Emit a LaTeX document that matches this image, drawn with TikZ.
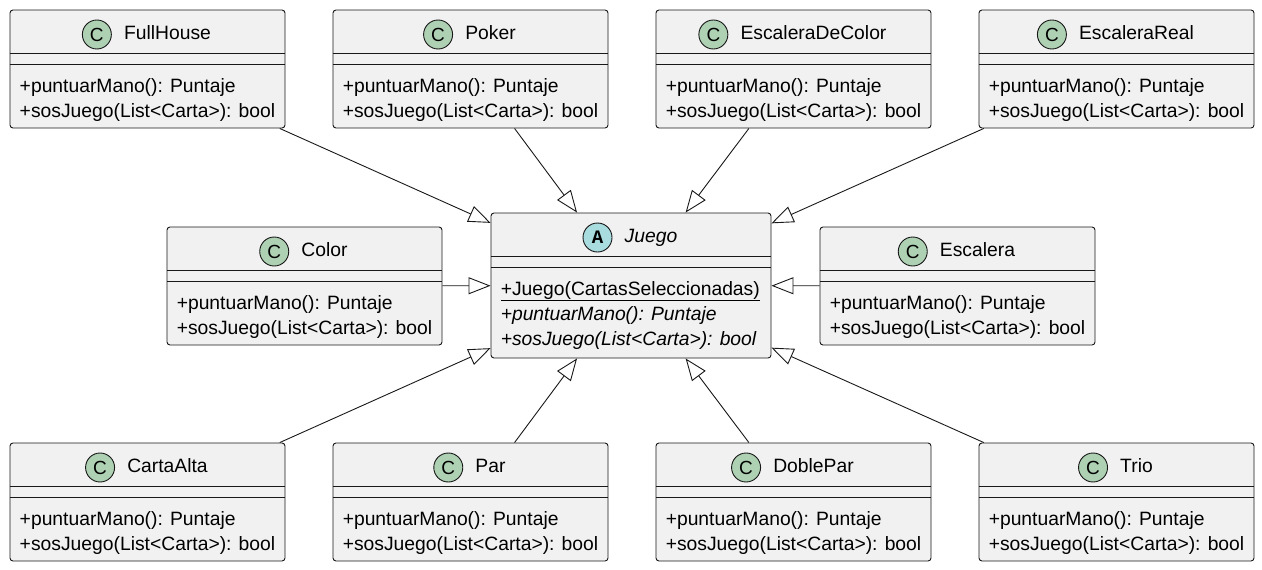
\documentclass[tikz,border=0pt]{standalone}
\usepackage{fontspec}
\setmainfont{Liberation Sans}
\newfontfamily\spotmono{Liberation Mono}
\usetikzlibrary{positioning,arrows.meta}
\definecolor{boxfill}{HTML}{F1F1F1}
\definecolor{boxline}{HTML}{181818}
\definecolor{classspot}{HTML}{ADD1B2}
\definecolor{abstractspot}{HTML}{A9DCDF}
\tikzset{
  classbox/.style={draw=boxline, fill=boxfill, line width=0.9pt, rounded corners=3pt,
    minimum width=275pt, minimum height=118pt, inner sep=0pt},
  spot/.style={circle, draw=boxline, line width=0.9pt, minimum size=29pt, inner sep=0pt,
    font=\fontsize{19}{19}\selectfont},
  title/.style={anchor=base, inner sep=0pt},
  member/.style={anchor=base west, inner sep=0pt},
  divider/.style={draw=boxline, line width=0.9pt},
  arrow/.style={line width=0.9pt, draw=boxline, -{Triangle[open, length=22pt, width=17pt]}},
}

\begin{document}
\begin{tikzpicture}[x=1pt, y=-1pt, font=\fontsize{19.3}{25}\selectfont]
\useasboundingbox (0,0) rectangle (1262,570);

% abstract class
\node[classbox, minimum width=280pt, minimum height=145pt] (Juego) at (631,285.5) {};
\node[title] (Juego-title) at (651,242.5) {\itshape Juego};
\node[spot, fill=abstractspot] (Juego-spot) at ([xshift=-27pt, yshift=5pt]Juego-title.base west) {\spotmono\bfseries A};
\draw[divider] ([yshift=-44pt]Juego.north west) -- ([yshift=-44pt]Juego.north east);
\draw[divider] ([yshift=-55pt]Juego.north west) -- ([yshift=-55pt]Juego.north east);
\node[member] (Juego-m1) at ([xshift=10pt, yshift=-82.7pt]Juego.north west) {\underline{+Juego(CartasSeleccionadas)}};
\node[member] (Juego-m2) at ([xshift=10pt, yshift=-107.7pt]Juego.north west) {\itshape +puntuarMano(): Puntaje};
\node[member] (Juego-m3) at ([xshift=10pt, yshift=-132.7pt]Juego.north west) {\itshape +sosJuego(List<Carta>): bool};

% concrete classes
\foreach \name/\x/\y in {FullHouse/147.5/69, Poker/470.5/69, EscaleraDeColor/793.5/69, EscaleraReal/1116.5/69,
    Color/304.5/286, Escalera/957.5/286,
    CartaAlta/147.5/502, Par/470.5/502, DoblePar/793.5/502, Trio/1116.5/502}{
  \node[classbox] (\name) at (\x,\y) {};
  \node[title] (\name-title) at (\x+20,\y-29.5) {\name};
  \node[spot, fill=classspot] (\name-spot) at ([xshift=-27pt, yshift=5pt]\name-title.base west) {C};
  \draw[divider] ([yshift=-44pt]\name.north west) -- ([yshift=-44pt]\name.north east);
  \draw[divider] ([yshift=-55pt]\name.north west) -- ([yshift=-55pt]\name.north east);
  \node[member] (\name-m1) at ([xshift=10pt, yshift=-82.7pt]\name.north west) {+puntuarMano(): Puntaje};
  \node[member] (\name-m2) at ([xshift=10pt, yshift=-107.7pt]\name.north west) {+sosJuego(List<Carta>): bool};
}

% generalizations
\foreach \name in {FullHouse, Poker, EscaleraDeColor, EscaleraReal, Color, Escalera, CartaAlta, Par, DoblePar, Trio}
  \draw[arrow] (\name) -- (Juego);
\end{tikzpicture}
\end{document}
